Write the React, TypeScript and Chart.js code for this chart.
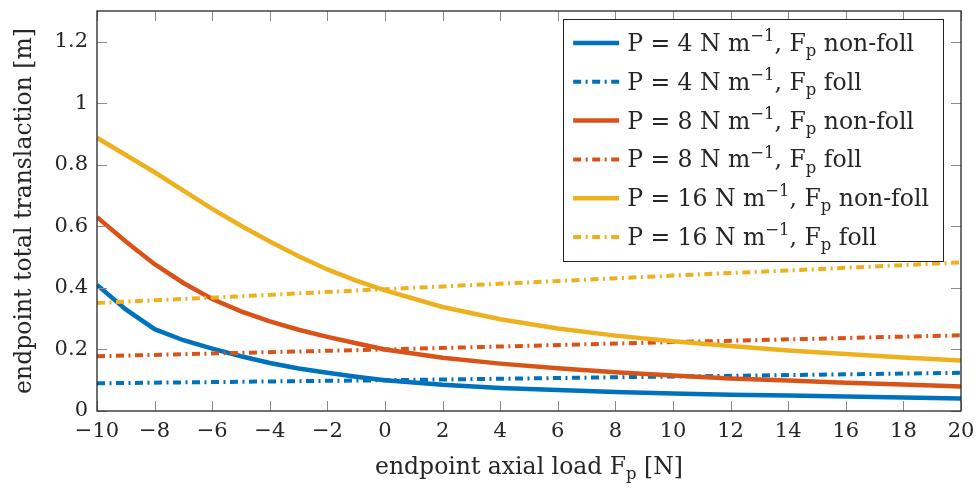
import React, { useEffect, useRef } from 'react';
import { Chart, registerables } from 'chart.js';

Chart.register(...registerables);

// ---------- data ----------
const loadNonFoll = [-10, -9, -8, -7, -6, -5, -4, -3, -2, -1, 0, 2, 4, 6, 8, 10, 12, 14, 16, 18, 20];
const p4NonFoll = [0.41, 0.33, 0.266, 0.23, 0.203, 0.178, 0.156, 0.138, 0.124, 0.111, 0.1, 0.085, 0.075, 0.068, 0.062, 0.057, 0.053, 0.05, 0.047, 0.044, 0.041];
const p8NonFoll = [0.63, 0.551, 0.477, 0.416, 0.364, 0.324, 0.291, 0.264, 0.241, 0.22, 0.2, 0.173, 0.154, 0.139, 0.126, 0.115, 0.106, 0.099, 0.092, 0.086, 0.08];
const p16NonFoll = [0.888, 0.832, 0.776, 0.716, 0.657, 0.602, 0.551, 0.503, 0.46, 0.424, 0.392, 0.338, 0.298, 0.268, 0.245, 0.227, 0.211, 0.197, 0.185, 0.174, 0.164];

const loadFoll = [-10, -5, 0, 5, 10, 15, 20];
const p4Foll = [0.09, 0.095, 0.1, 0.106, 0.112, 0.118, 0.124];
const p8Foll = [0.178, 0.189, 0.2, 0.212, 0.224, 0.235, 0.246];
const p16Foll = [0.351, 0.373, 0.396, 0.418, 0.44, 0.461, 0.483];

const legendLabels = [
  'P = 4 N m^{−1}, F_{p} non-foll',
  'P = 4 N m^{−1}, F_{p} foll',
  'P = 8 N m^{−1}, F_{p} non-foll',
  'P = 8 N m^{−1}, F_{p} foll',
  'P = 16 N m^{−1}, F_{p} non-foll',
  'P = 16 N m^{−1}, F_{p} foll',
];
const plainLabels = [
  'P = 4 N m⁻¹, Fₚ non-foll',
  'P = 4 N m⁻¹, Fₚ foll',
  'P = 8 N m⁻¹, Fₚ non-foll',
  'P = 8 N m⁻¹, Fₚ foll',
  'P = 16 N m⁻¹, Fₚ non-foll',
  'P = 16 N m⁻¹, Fₚ foll',
];
const xTitle = 'endpoint axial load F_{p} [N]';
const yTitle = 'endpoint total translaction [m]';

// ---------- styling ----------
const BLUE = '#0072BD';
const ORANGE = '#D95319';
const YELLOW = '#EDB120';
const TEXT = '#262626';
const FAMILY = '"DejaVu Serif", serif';
const TICK_SIZE = 21;
const TITLE_SIZE = 23.5;
const LEGEND_SIZE = 23.5;
const DASH = [8, 4.5, 2, 4.5];

type Part = { t: string; k: 'n' | 'sup' | 'sub' };
function parseRich(s: string): Part[] {
  const parts: Part[] = [];
  const re = /(\^\{[^}]*\}|_\{[^}]*\})/g;
  let last = 0;
  let m: RegExpExecArray | null;
  while ((m = re.exec(s))) {
    if (m.index > last) parts.push({ t: s.slice(last, m.index), k: 'n' });
    parts.push({ t: m[0].slice(2, -1), k: m[0][0] === '^' ? 'sup' : 'sub' });
    last = m.index + m[0].length;
  }
  if (last < s.length) parts.push({ t: s.slice(last), k: 'n' });
  return parts;
}

function richWidth(ctx: CanvasRenderingContext2D, s: string, size: number) {
  let w = 0;
  for (const p of parseRich(s)) {
    const fs = p.k === 'n' ? size : size * 0.7;
    ctx.font = `${fs}px ${FAMILY}`;
    w += ctx.measureText(p.t).width;
  }
  return w;
}

function drawRich(ctx: CanvasRenderingContext2D, s: string, x: number, y: number, size: number) {
  let cx = x;
  ctx.textBaseline = 'alphabetic';
  ctx.textAlign = 'left';
  for (const p of parseRich(s)) {
    const fs = p.k === 'n' ? size : size * 0.7;
    ctx.font = `${fs}px ${FAMILY}`;
    const dy = p.k === 'sup' ? -size * 0.42 : p.k === 'sub' ? size * 0.22 : 0;
    ctx.fillText(p.t, cx, y + dy);
    cx += ctx.measureText(p.t).width;
  }
  return cx - x;
}

const boxPlugin = {
  id: 'matlabBox',
  afterDatasetsDraw(chart: any) {
    const { ctx, chartArea } = chart;
    const { left, right, top, bottom } = chartArea;
    const xs = chart.scales.x;
    const ys = chart.scales.y;
    ctx.save();
    ctx.strokeStyle = '#8c8c8c';
    ctx.lineWidth = 1;
    const tl = 10;
    ctx.beginPath();
    for (const t of xs.ticks) {
      const px = Math.round(xs.getPixelForValue(t.value)) + 0.5;
      ctx.moveTo(px, bottom);
      ctx.lineTo(px, bottom - tl);
      ctx.moveTo(px, top);
      ctx.lineTo(px, top + tl);
    }
    for (const t of ys.ticks) {
      const py = Math.round(ys.getPixelForValue(t.value)) + 0.5;
      ctx.moveTo(left, py);
      ctx.lineTo(left + tl, py);
      ctx.moveTo(right, py);
      ctx.lineTo(right - tl, py);
    }
    ctx.stroke();
    ctx.strokeStyle = TEXT;
    ctx.lineWidth = 1.3;
    ctx.strokeRect(left, top, right - left, bottom - top);
    ctx.restore();
  },
  afterDraw(chart: any) {
    const { ctx, chartArea } = chart;
    const { left, right, top, bottom } = chartArea;
    ctx.save();
    // x title with subscript
    ctx.fillStyle = TEXT;
    const w = richWidth(ctx, xTitle, TITLE_SIZE);
    drawRich(ctx, xTitle, (left + right) / 2 - w / 2, bottom + 63, TITLE_SIZE);

    // legend
    const rowH = 38.8;
    const padTop = 4.6;
    const lineLen = 46;
    const padL = 10;
    const gap = 8;
    const padR = 14;
    let maxW = 0;
    for (const l of legendLabels) maxW = Math.max(maxW, richWidth(ctx, l, LEGEND_SIZE));
    const bw = padL + lineLen + gap + maxW + padR;
    const bh = padTop * 2 + rowH * legendLabels.length;
    const bx = right - 18 - bw;
    const by = top + 8;
    ctx.fillStyle = '#ffffff';
    ctx.fillRect(bx, by, bw, bh);
    ctx.strokeStyle = TEXT;
    ctx.lineWidth = 1;
    ctx.strokeRect(Math.round(bx) + 0.5, Math.round(by) + 0.5, Math.round(bw), Math.round(bh));
    chart.data.datasets.forEach((ds: any, i: number) => {
      const cy = by + padTop + rowH * (i + 0.5);
      ctx.beginPath();
      ctx.strokeStyle = ds.borderColor;
      ctx.lineWidth = ds.borderWidth;
      ctx.setLineDash(ds.borderDash || []);
      ctx.moveTo(bx + padL, cy);
      ctx.lineTo(bx + padL + lineLen, cy);
      ctx.stroke();
      ctx.setLineDash([]);
      ctx.fillStyle = TEXT;
      drawRich(ctx, legendLabels[i], bx + padL + lineLen + gap, cy + 8, LEGEND_SIZE);
    });
    ctx.restore();
  },
};

function toPts(xs: number[], ys: number[]) {
  return xs.map((x, i) => ({ x, y: ys[i] }));
}

const fmt = (v: number) => {
  const s = String(Number(v.toFixed(2)));
  return s.replace('-', '−');
};

export default function App() {
  const ref = useRef<HTMLCanvasElement | null>(null);
  useEffect(() => {
    document.body.style.margin = '0';
    const canvas = ref.current!;
    const mk = (i: number, xs: number[], ys: number[], color: string, dashed: boolean) => ({
      label: plainLabels[i],
      data: toPts(xs, ys),
      borderColor: color,
      backgroundColor: color,
      borderWidth: dashed ? 4 : 4.5,
      borderDash: dashed ? DASH : [],
      pointRadius: 0,
      tension: 0,
      fill: false,
      order: -i,
    });
    const chart = new Chart(canvas, {
      type: 'line',
      data: {
        datasets: [
          mk(0, loadNonFoll, p4NonFoll, BLUE, false),
          mk(1, loadFoll, p4Foll, BLUE, true),
          mk(2, loadNonFoll, p8NonFoll, ORANGE, false),
          mk(3, loadFoll, p8Foll, ORANGE, true),
          mk(4, loadNonFoll, p16NonFoll, YELLOW, false),
          mk(5, loadFoll, p16Foll, YELLOW, true),
        ],
      },
      options: {
        animation: false,
        responsive: false,
        maintainAspectRatio: false,
        layout: { padding: { left: 0, right: 15, top: 11, bottom: 0 } },
        plugins: {
          legend: { display: false },
          tooltip: { enabled: false },
        },
        scales: {
          x: {
            type: 'linear',
            min: -10,
            max: 20,
            grid: { display: false, drawTicks: false },
            border: { display: false },
            ticks: {
              stepSize: 2,
              includeBounds: false,
              color: TEXT,
              padding: 8,
              font: { family: FAMILY, size: TICK_SIZE },
              callback: (v: any) => fmt(Number(v)),
            },
            afterFit: (s: any) => {
              s.height = 77;
              s.paddingLeft = 0;
              s.paddingRight = 0;
            },
          },
          y: {
            type: 'linear',
            min: 0,
            max: 1.3,
            grid: { display: false, drawTicks: false },
            border: { display: false },
            ticks: {
              stepSize: 0.2,
              includeBounds: false,
              color: TEXT,
              padding: 9,
              font: { family: FAMILY, size: TICK_SIZE },
              callback: (v: any) => fmt(Number(v)),
            },
            title: {
              display: true,
              text: yTitle,
              color: TEXT,
              font: { family: FAMILY, size: TITLE_SIZE },
              padding: { top: 11, bottom: 0 },
            },
            afterFit: (s: any) => {
              s.width = 97;
              s.paddingTop = 0;
              s.paddingBottom = 0;
            },
          },
        },
      },
      plugins: [boxPlugin],
    } as any);
    return () => chart.destroy();
  }, []);
  return <canvas ref={ref} width={976} height={488} style={{ display: 'block' }} />;
}
